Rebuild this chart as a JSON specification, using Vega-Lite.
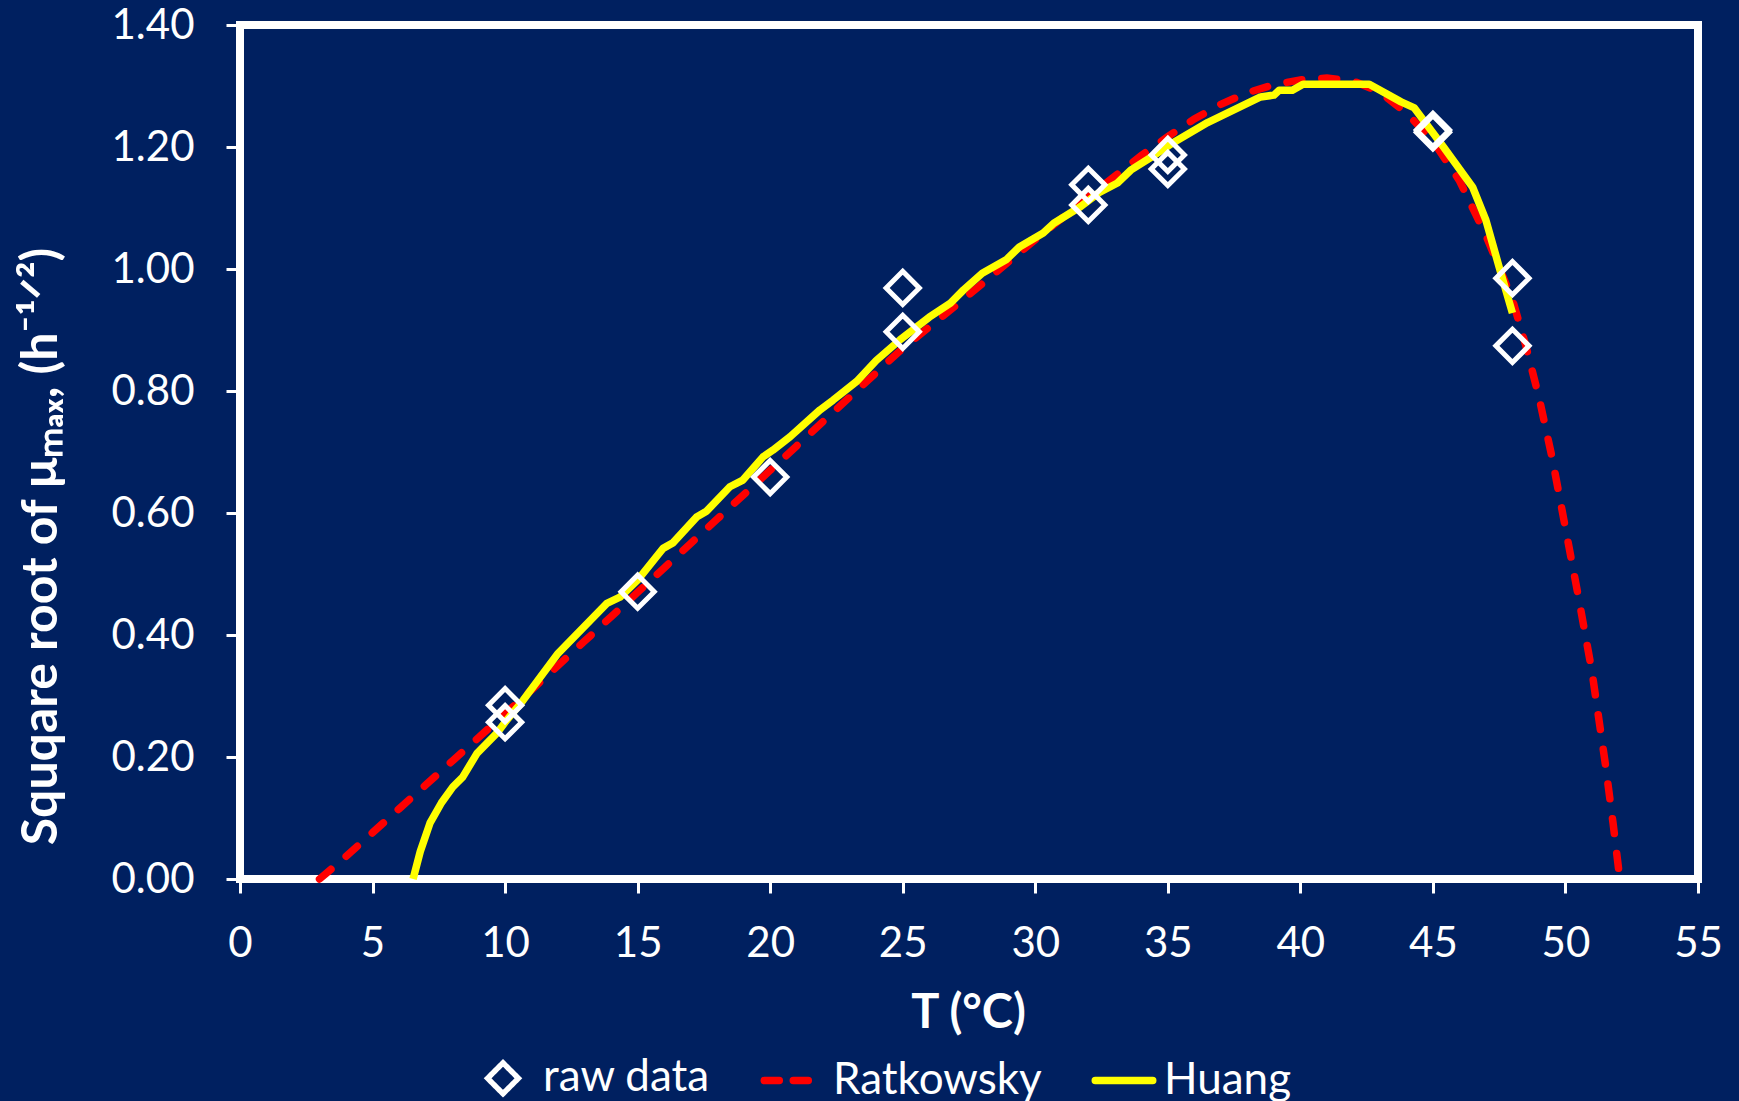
{
  "$schema": "https://vega.github.io/schema/vega-lite/v6.json",
  "width": 1458,
  "height": 854,
  "autosize": "none",
  "padding": {"left": 240, "top": 25, "right": 41, "bottom": 222},
  "background": "#002060",
  "config": {
    "font": "Lato",
    "view": {"stroke": "white", "strokeWidth": 8},
    "axis": {
      "domain": false,
      "grid": false,
      "tickColor": "white",
      "tickSize": 14,
      "tickWidth": 3,
      "labelColor": "white",
      "labelFont": "Lato",
      "labelFontSize": 42,
      "titleColor": "white",
      "titleFont": "Lato",
      "titleFontWeight": "bold"
    }
  },
  "datasets": {
    "raw": [
      {"T": 10, "v": 0.285, "series": "raw data"},
      {"T": 10, "v": 0.257, "series": "raw data"},
      {"T": 15, "v": 0.471, "series": "raw data"},
      {"T": 20, "v": 0.659, "series": "raw data"},
      {"T": 25, "v": 0.969, "series": "raw data"},
      {"T": 25, "v": 0.897, "series": "raw data"},
      {"T": 32, "v": 1.138, "series": "raw data"},
      {"T": 32, "v": 1.105, "series": "raw data"},
      {"T": 35, "v": 1.187, "series": "raw data"},
      {"T": 35, "v": 1.164, "series": "raw data"},
      {"T": 45, "v": 1.228, "series": "raw data"},
      {"T": 45, "v": 1.224, "series": "raw data"},
      {"T": 48, "v": 0.985, "series": "raw data"},
      {"T": 48, "v": 0.874, "series": "raw data"}
    ],
    "rat": [
      {"T": 3.0, "v": 0, "series": "Ratkowsky"},
      {"T": 4, "v": 0.037, "series": "Ratkowsky"},
      {"T": 5, "v": 0.076, "series": "Ratkowsky"},
      {"T": 6, "v": 0.115, "series": "Ratkowsky"},
      {"T": 7, "v": 0.154, "series": "Ratkowsky"},
      {"T": 8, "v": 0.193, "series": "Ratkowsky"},
      {"T": 9, "v": 0.232, "series": "Ratkowsky"},
      {"T": 10, "v": 0.271, "series": "Ratkowsky"},
      {"T": 11, "v": 0.31, "series": "Ratkowsky"},
      {"T": 12, "v": 0.35, "series": "Ratkowsky"},
      {"T": 13, "v": 0.39, "series": "Ratkowsky"},
      {"T": 14, "v": 0.43, "series": "Ratkowsky"},
      {"T": 15, "v": 0.47, "series": "Ratkowsky"},
      {"T": 16, "v": 0.51, "series": "Ratkowsky"},
      {"T": 17, "v": 0.55, "series": "Ratkowsky"},
      {"T": 18, "v": 0.59, "series": "Ratkowsky"},
      {"T": 19, "v": 0.63, "series": "Ratkowsky"},
      {"T": 20, "v": 0.67, "series": "Ratkowsky"},
      {"T": 21, "v": 0.71, "series": "Ratkowsky"},
      {"T": 22, "v": 0.75, "series": "Ratkowsky"},
      {"T": 23, "v": 0.79, "series": "Ratkowsky"},
      {"T": 24, "v": 0.83, "series": "Ratkowsky"},
      {"T": 25, "v": 0.87, "series": "Ratkowsky"},
      {"T": 26, "v": 0.905, "series": "Ratkowsky"},
      {"T": 27, "v": 0.94, "series": "Ratkowsky"},
      {"T": 28, "v": 0.976, "series": "Ratkowsky"},
      {"T": 29, "v": 1.012, "series": "Ratkowsky"},
      {"T": 30, "v": 1.048, "series": "Ratkowsky"},
      {"T": 31, "v": 1.083, "series": "Ratkowsky"},
      {"T": 32, "v": 1.118, "series": "Ratkowsky"},
      {"T": 33, "v": 1.152, "series": "Ratkowsky"},
      {"T": 34, "v": 1.186, "series": "Ratkowsky"},
      {"T": 35, "v": 1.217, "series": "Ratkowsky"},
      {"T": 36, "v": 1.246, "series": "Ratkowsky"},
      {"T": 37, "v": 1.27, "series": "Ratkowsky"},
      {"T": 38, "v": 1.289, "series": "Ratkowsky"},
      {"T": 39, "v": 1.302, "series": "Ratkowsky"},
      {"T": 40, "v": 1.31, "series": "Ratkowsky"},
      {"T": 41, "v": 1.313, "series": "Ratkowsky"},
      {"T": 42, "v": 1.308, "series": "Ratkowsky"},
      {"T": 43, "v": 1.29, "series": "Ratkowsky"},
      {"T": 44, "v": 1.256, "series": "Ratkowsky"},
      {"T": 45, "v": 1.21, "series": "Ratkowsky"},
      {"T": 46, "v": 1.145, "series": "Ratkowsky"},
      {"T": 47, "v": 1.055, "series": "Ratkowsky"},
      {"T": 48, "v": 0.95, "series": "Ratkowsky"},
      {"T": 48.5, "v": 0.875, "series": "Ratkowsky"},
      {"T": 49, "v": 0.79, "series": "Ratkowsky"},
      {"T": 49.5, "v": 0.69, "series": "Ratkowsky"},
      {"T": 50, "v": 0.575, "series": "Ratkowsky"},
      {"T": 50.5, "v": 0.46, "series": "Ratkowsky"},
      {"T": 51, "v": 0.34, "series": "Ratkowsky"},
      {"T": 51.5, "v": 0.19, "series": "Ratkowsky"},
      {"T": 51.8, "v": 0.09, "series": "Ratkowsky"},
      {"T": 52.05, "v": 0, "series": "Ratkowsky"}
    ],
    "huang": [
      {"T": 6.53, "v": 0, "series": "Huang"},
      {"T": 6.8, "v": 0.045, "series": "Huang"},
      {"T": 7.17, "v": 0.092, "series": "Huang"},
      {"T": 7.6, "v": 0.125, "series": "Huang"},
      {"T": 8.03, "v": 0.151, "series": "Huang"},
      {"T": 8.4, "v": 0.167, "series": "Huang"},
      {"T": 8.94, "v": 0.206, "series": "Huang"},
      {"T": 9.69, "v": 0.239, "series": "Huang"},
      {"T": 10.0, "v": 0.257, "series": "Huang"},
      {"T": 10.68, "v": 0.293, "series": "Huang"},
      {"T": 12.0, "v": 0.37, "series": "Huang"},
      {"T": 13.84, "v": 0.452, "series": "Huang"},
      {"T": 14.33, "v": 0.462, "series": "Huang"},
      {"T": 15.0, "v": 0.49, "series": "Huang"},
      {"T": 15.96, "v": 0.542, "series": "Huang"},
      {"T": 16.33, "v": 0.551, "series": "Huang"},
      {"T": 17.24, "v": 0.594, "series": "Huang"},
      {"T": 17.6, "v": 0.603, "series": "Huang"},
      {"T": 18.48, "v": 0.643, "series": "Huang"},
      {"T": 18.97, "v": 0.654, "series": "Huang"},
      {"T": 19.73, "v": 0.692, "series": "Huang"},
      {"T": 20.1, "v": 0.703, "series": "Huang"},
      {"T": 20.75, "v": 0.725, "series": "Huang"},
      {"T": 21.88, "v": 0.769, "series": "Huang"},
      {"T": 22.37, "v": 0.785, "series": "Huang"},
      {"T": 23.27, "v": 0.816, "series": "Huang"},
      {"T": 24.0, "v": 0.85, "series": "Huang"},
      {"T": 24.9, "v": 0.884, "series": "Huang"},
      {"T": 26.0, "v": 0.921, "series": "Huang"},
      {"T": 26.8, "v": 0.944, "series": "Huang"},
      {"T": 27.3, "v": 0.966, "series": "Huang"},
      {"T": 28.0, "v": 0.993, "series": "Huang"},
      {"T": 28.9, "v": 1.015, "series": "Huang"},
      {"T": 29.4, "v": 1.036, "series": "Huang"},
      {"T": 30.3, "v": 1.059, "series": "Huang"},
      {"T": 30.7, "v": 1.075, "series": "Huang"},
      {"T": 31.7, "v": 1.102, "series": "Huang"},
      {"T": 32.4, "v": 1.125, "series": "Huang"},
      {"T": 33.1, "v": 1.141, "series": "Huang"},
      {"T": 33.6, "v": 1.162, "series": "Huang"},
      {"T": 34.4, "v": 1.184, "series": "Huang"},
      {"T": 35.2, "v": 1.207, "series": "Huang"},
      {"T": 36.5, "v": 1.24, "series": "Huang"},
      {"T": 38.5, "v": 1.282, "series": "Huang"},
      {"T": 39.0, "v": 1.285, "series": "Huang"},
      {"T": 39.2, "v": 1.293, "series": "Huang"},
      {"T": 39.7, "v": 1.293, "series": "Huang"},
      {"T": 40.1, "v": 1.303, "series": "Huang"},
      {"T": 42.6, "v": 1.303, "series": "Huang"},
      {"T": 43.8, "v": 1.274, "series": "Huang"},
      {"T": 44.3, "v": 1.264, "series": "Huang"},
      {"T": 45.4, "v": 1.2, "series": "Huang"},
      {"T": 46.5, "v": 1.134, "series": "Huang"},
      {"T": 47.0, "v": 1.08, "series": "Huang"},
      {"T": 47.5, "v": 1.003, "series": "Huang"},
      {"T": 48.0, "v": 0.928, "series": "Huang"}
    ]
  },
  "encoding": {
    "x": {
      "field": "T",
      "type": "quantitative",
      "scale": {"domain": [0, 55], "nice": false},
      "axis": {
        "values": [0, 5, 10, 15, 20, 25, 30, 35, 40, 45, 50, 55],
        "title": "T (°C)",
        "titleFontSize": 47,
        "titleX": 728,
        "titleY": 148,
        "titleBaseline": "alphabetic",
        "labelPadding": 30,
        "labelFlush": false
      }
    },
    "y": {
      "field": "v",
      "type": "quantitative",
      "scale": {"domain": [0, 1.4], "nice": false},
      "axis": {
        "values": [0, 0.2, 0.4, 0.6, 0.8, 1.0, 1.2, 1.4],
        "format": ".2f",
        "title": "Squqare root of μₘₐₓ, (h⁻¹ᐟ²)",
        "titleFontSize": 50,
        "titleX": -184,
        "titleY": 521,
        "titleAngle": -90,
        "titleAlign": "center",
        "titleBaseline": "alphabetic",
        "labelPadding": 32,
        "labelFlush": false
      }
    },
    "color": {
      "field": "series",
      "type": "nominal",
      "scale": {"domain": ["raw data", "Ratkowsky", "Huang"], "range": ["white", "#ff0000", "#ffff00"]},
      "legend": {
        "title": null,
        "orient": "none",
        "direction": "horizontal",
        "legendX": 241,
        "legendY": 1031,
        "labelColor": "white",
        "labelFont": "Lato",
        "labelFontSize": 44,
        "labelLimit": 600,
        "labelOffset": 18,
        "columnPadding": 38,
        "symbolSize": 3300,
        "symbolStrokeWidth": 7,
        "symbolType": "stroke",
        "encode": {
          "symbols": {
            "update": {
              "shape": {"signal": "datum.value === 'raw data' ? 'diamond' : 'stroke'"},
              "size": {"signal": "datum.value === 'raw data' ? 950 : 3300"},
              "strokeWidth": {"signal": "datum.value === 'raw data' ? 5.5 : 7.5"},
              "strokeDash": {"signal": "datum.value === 'Ratkowsky' ? [15, 14] : [1, 0]"},
              "strokeCap": {"value": "round"},
              "fill": {"value": "transparent"},
              "stroke": {"signal": "datum.value === 'raw data' ? 'white' : (datum.value === 'Ratkowsky' ? '#ff0000' : '#ffff00')"},
              "opacity": {"value": 1}
            }
          }
        }
      }
    }
  },
  "layer": [
    {
      "data": {"name": "rat"},
      "mark": {"type": "line", "strokeWidth": 7.5, "strokeDash": [15, 20], "strokeCap": "round"}
    },
    {
      "data": {"name": "huang"},
      "mark": {"type": "line", "strokeWidth": 7.5, "strokeJoin": "round"}
    },
    {
      "data": {"name": "raw"},
      "mark": {"type": "point", "shape": "diamond", "filled": false, "size": 1100, "strokeWidth": 5, "opacity": 1}
    }
  ]
}
